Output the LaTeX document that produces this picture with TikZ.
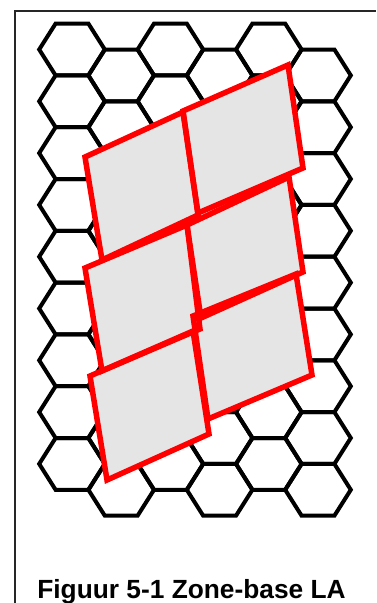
\documentclass[tikz,border=0pt]{standalone}
\usepackage{fontspec}
\setmainfont{Liberation Sans}
\begin{document}
\begin{tikzpicture}[x=1pt,y=-1pt,
  hexcell/.style={draw=black, line width=4pt, line join=miter},
  zonefill/.style={fill=black!10},
  zoneedge/.style={draw=red, line width=5.5pt, line join=miter},
  framestyle/.style={draw=black!85, line width=1.2pt},
  titlestyle/.style={font=\bfseries\fontsize{26.3}{30}\selectfont, anchor=base, inner sep=0pt}
]
\useasboundingbox (0,0) rectangle (376,603);
\draw[framestyle] (15,603) -- (15,11) -- (376,11);
\foreach \i in {0,...,5} {
  \foreach \j in {0,...,8} {
    \pgfmathsetmacro\cx{72+49.2*\i}
    \pgfmathsetmacro\cy{49.5+51.8*\j+25.9*mod(\i,2)}
    \draw[hexcell] (\cx-32.8,\cy) -- (\cx-16.4,\cy-25.9) -- (\cx+16.4,\cy-25.9)
      -- (\cx+32.8,\cy) -- (\cx+16.4,\cy+25.9) -- (\cx-16.4,\cy+25.9) -- cycle;
  }
}
% zone corners
\coordinate (A1) at (85,157);  \coordinate (A2) at (183,112); \coordinate (A3) at (198,215); \coordinate (A4) at (102,260);
\coordinate (B1) at (183,111); \coordinate (B2) at (288,65);  \coordinate (B3) at (303,168); \coordinate (B4) at (198,213);
\coordinate (C1) at (85,268);  \coordinate (C2) at (187,225); \coordinate (C3) at (200,329); \coordinate (C4) at (102,371);
\coordinate (D1) at (187,225); \coordinate (D2) at (289,177); \coordinate (D3) at (303,272); \coordinate (D4) at (201,318);
\coordinate (E1) at (90,376);  \coordinate (E2) at (193,331); \coordinate (E3) at (209,434); \coordinate (E4) at (107,480);
\coordinate (F1) at (193,316); \coordinate (F2) at (296,274); \coordinate (F3) at (312,375); \coordinate (F4) at (208,419);
% fills
\foreach \z in {A,B,C,D,E,F} {
  \fill[zonefill] (\z1) -- (\z2) -- (\z3) -- (\z4) -- cycle;
}
\fill[zonefill] (B4) -- (B3) -- (D2) -- (D1) -- (A3) -- cycle;
\fill[zonefill] (A4) -- (A3) -- (C2) -- (C1) -- cycle;
% edges
\foreach \z in {A,B,C,D,E,F} {
  \draw[zoneedge] (\z1) -- (\z2) -- (\z3) -- (\z4) -- cycle;
}
\node[titlestyle] (title) at (191.5,598) {Figuur 5-1 Zone-base LA};
\end{tikzpicture}
\end{document}
